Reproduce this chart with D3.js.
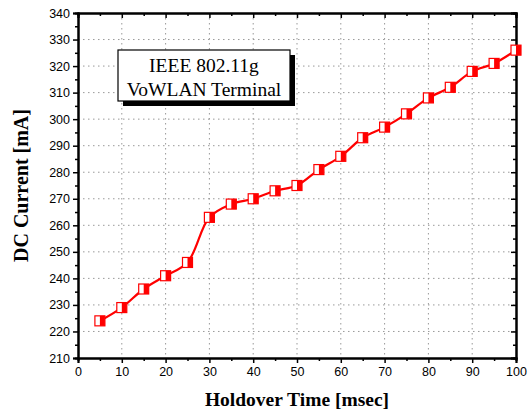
<!DOCTYPE html>
<html>
<head>
<meta charset="utf-8">
<script src="https://cdn.jsdelivr.net/npm/d3@7"></script>
<style>
  body { margin: 0; background: #fff; }
  svg text { fill: #000; }
</style>
</head>
<body>
<div id="chart"></div>
<script>
let holdover = [5, 10, 15, 20, 25, 30, 35, 40, 45, 50, 55, 60, 65, 70, 75, 80, 85, 90, 95, 100];
let current  = [224, 229, 236, 241, 246, 263, 268, 270, 273, 275, 281, 286, 293, 297, 302, 308, 312, 318, 321, 326];
let xTicks = d3.range(0, 101, 10);
let yTicks = d3.range(210, 341, 10);
let legendLines = ["IEEE 802.11g", "VoWLAN Terminal"];

let margin = { top: 13, right: 12, bottom: 57, left: 78 };
let width = 528, height = 415;
let iw = width - margin.left - margin.right,
    ih = height - margin.top - margin.bottom;

let svg = d3.select("#chart").append("svg")
    .attr("width", width)
    .attr("height", height);

let g = svg.append("g")
    .attr("transform", translate(margin.left, margin.top));

let x = d3.scaleLinear().domain([0, 100]).range([0, iw]);
let y = d3.scaleLinear().domain([210, 340]).range([ih, 0]);

// grid
g.append("g").selectAll("line")
    .data(xTicks.slice(1, -1))
    .enter().append("line")
      .attr("x1", d => x(d)).attr("x2", d => x(d))
      .attr("y1", 0).attr("y2", ih)
      .attr("stroke", "#999").attr("stroke-dasharray", "1.5,3.5");

g.append("g").selectAll("line")
    .data(yTicks.slice(1, -1))
    .enter().append("line")
      .attr("y1", d => y(d)).attr("y2", d => y(d))
      .attr("x1", 0).attr("x2", iw)
      .attr("stroke", "#999").attr("stroke-dasharray", "1.5,3.5");

let minorX = d3.range(5, 100, 10);
let minorY = d3.range(215, 340, 10);

// axes
let axBottom = g.append("g")
    .attr("transform", translate(0, ih))
    .call(d3.axisBottom(x).tickValues(xTicks).tickSize(5).tickPadding(4));
axBottom.append("g").call(d3.axisBottom(x).tickValues(minorX).tickSize(3).tickFormat(""));

let axLeft = g.append("g")
    .call(d3.axisLeft(y).tickValues(yTicks).tickSize(5).tickPadding(3));
axLeft.append("g").call(d3.axisLeft(y).tickValues(minorY).tickSize(3).tickFormat(""));

let axTop = g.append("g")
    .call(d3.axisBottom(x).tickValues(xTicks).tickSize(5).tickFormat(""));
axTop.append("g").call(d3.axisBottom(x).tickValues(minorX).tickSize(3).tickFormat(""));

let axRight = g.append("g")
    .attr("transform", translate(iw, 0))
    .call(d3.axisLeft(y).tickValues(yTicks).tickSize(5).tickFormat(""));
axRight.append("g").call(d3.axisLeft(y).tickValues(minorY).tickSize(3).tickFormat(""));

g.selectAll(".domain").attr("stroke", "#000").attr("stroke-width", 2);
g.selectAll(".tick line").attr("stroke", "#000").attr("stroke-width", 1.5);
g.selectAll(".tick text")
    .attr("font-family", "Arial, 'Liberation Sans', sans-serif")
    .attr("font-size", 12.5);

// legend box
let lx = 118 - margin.left, ly = 50 - margin.top, lw = 172, lh = 51;
g.append("rect")
    .attr("x", lx + 5).attr("y", ly + 5)
    .attr("width", lw).attr("height", lh)
    .attr("fill", "#000");
g.append("rect")
    .attr("x", lx).attr("y", ly)
    .attr("width", lw).attr("height", lh)
    .attr("fill", "#fff").attr("stroke", "#000").attr("stroke-width", 1.2);
g.selectAll(".legend-text")
    .data(legendLines)
    .enter().append("text")
      .attr("class", "legend-text")
      .attr("x", lx + lw / 2)
      .attr("y", (d, i) => ly + 22 + i * 24)
      .attr("text-anchor", "middle")
      .attr("font-family", "'Liberation Serif', 'Times New Roman', serif")
      .attr("font-size", 19.5)
      .text(d => d);

// line
let data = holdover.map((h, i) => ({ h: h, c: current[i] }));
let line = d3.line()
    .curve(d3.curveCatmullRom.alpha(0.5))
    .x(d => x(d.h))
    .y(d => y(d.c));

g.append("path")
    .datum(data)
    .attr("d", line)
    .attr("fill", "none")
    .attr("stroke", "#f00")
    .attr("stroke-width", 2.2);

// half-filled square markers
let mk = g.selectAll(".marker")
    .data(data)
    .enter().append("g")
      .attr("class", "marker")
      .attr("transform", d => translate(x(d.h), y(d.c)));
mk.append("rect")
    .attr("x", -5).attr("y", -5).attr("width", 10).attr("height", 10)
    .attr("fill", "#fff").attr("stroke", "#f00").attr("stroke-width", 1.2);
mk.append("rect")
    .attr("x", 0).attr("y", -5).attr("width", 5).attr("height", 10)
    .attr("fill", "#f00");

// axis titles
svg.append("text")
    .attr("x", margin.left + iw / 2)
    .attr("y", 406)
    .attr("text-anchor", "middle")
    .attr("font-family", "'Liberation Serif', 'Times New Roman', serif")
    .attr("font-weight", "bold")
    .attr("font-size", 19.5)
    .text("Holdover Time [msec]");

svg.append("text")
    .attr("transform", "translate(28," + (margin.top + ih / 2) + ") rotate(-90)")
    .attr("text-anchor", "middle")
    .attr("font-family", "'Liberation Serif', 'Times New Roman', serif")
    .attr("font-weight", "bold")
    .attr("font-size", 20)
    .text("DC Current [mA]");

function translate(x, y = 0) {
  return "translate(" + x + "," + y + ")";
}
</script>
</body>
</html>
